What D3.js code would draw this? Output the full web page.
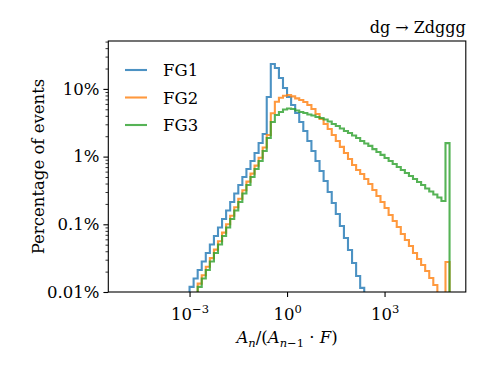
<!DOCTYPE html>
<html lang="en">
<head>
<meta charset="UTF-8">
<title>FG histograms</title>
<script src="https://d3js.org/d3.v7.min.js"></script>
<style>
  body { margin: 0; background: white; }
  svg { display: block; }
  text { font-family: "DejaVu Serif", serif; fill: black; }
  .axis path, .axis line { stroke: black; }
  .axis text { font-size: 16.5px; font-family: "DejaVu Serif", serif; }
</style>
</head>
<body>
<script>
// histogram bins: 80 log bins from 10^-5 to 10^5
const binLogStart = -5;
const binLogWidth = 0.125;

// percentage of events per bin
const fg1 = [
  0, 0, 0, 0, 0, 0, 0, 0, 0, 0, 0, 0, 0, 0, 0, 0,
  0.0119, 0.0158, 0.0211, 0.0282, 0.0377, 0.0503, 0.0672, 0.0897, 0.120, 0.160,
  0.213, 0.285, 0.381, 0.500, 0.656, 0.861, 1.13, 1.59, 2.16, 7.59,
  23.3, 20.4, 14.5, 10.3, 7.59, 5.78, 4.41, 3.24, 2.39, 1.70,
  1.21, 0.861, 0.613, 0.436, 0.300, 0.206, 0.142, 0.0944, 0.0628, 0.0417,
  0.0268, 0.0172, 0.0115, 0, 0, 0, 0, 0, 0, 0,
  0, 0, 0, 0, 0, 0, 0, 0, 0, 0, 0, 0, 0, 0
];
const fg2 = [
  0, 0, 0, 0, 0, 0, 0, 0, 0, 0, 0, 0, 0, 0, 0, 0, 0, 0,
  0.0133, 0.0177, 0.0236, 0.0316, 0.0422, 0.0563, 0.0753, 0.100, 0.134, 0.179,
  0.239, 0.319, 0.427, 0.560, 0.735, 0.964, 1.36, 2.08, 4.37, 6.46,
  7.41, 7.94, 8.13, 7.76, 7.24, 6.86, 6.40, 5.78, 5.05, 4.26,
  3.59, 3.03, 2.56, 2.08, 1.70, 1.39, 1.13, 0.922, 0.752, 0.634,
  0.553, 0.467, 0.394, 0.321, 0.262, 0.213, 0.174, 0.137, 0.112, 0.0912,
  0.0719, 0.0586, 0.0478, 0.0377, 0.0307, 0.0250, 0.0204, 0.0161, 0.0127, 0.008,
  0.008, 0.0277
];
const fg3 = [
  0, 0, 0, 0, 0, 0, 0, 0, 0, 0, 0, 0, 0, 0, 0, 0, 0, 0,
  0.0119, 0.0158, 0.0211, 0.0282, 0.0377, 0.0503, 0.0672, 0.0897, 0.120, 0.160,
  0.213, 0.285, 0.381, 0.500, 0.656, 0.861, 1.21, 1.88, 3.24, 4.11,
  4.56, 4.97, 5.13, 5.05, 4.80, 4.56, 4.41, 4.19, 4.05, 3.85,
  3.72, 3.53, 3.30, 3.03, 2.83, 2.60, 2.39, 2.23, 2.05, 1.88,
  1.70, 1.56, 1.44, 1.29, 1.17, 1.06, 0.953, 0.861, 0.778, 0.701,
  0.634, 0.573, 0.516, 0.467, 0.422, 0.380, 0.338, 0.305, 0.275, 0.249,
  0.221, 1.58
];

const seriesNames = ["FG1", "FG2", "FG3"];
const seriesColors = ["#1f77b4", "#ff7f0e", "#2ca02c"];
const seriesValues = [fg1, fg2, fg3];

const yMajorTicks = [0.01, 0.1, 1, 10];
const yMajorLabels = ["0.01%", "0.1%", "1%", "10%"];
const xMajorExponents = [-3, 0, 3];
const title = "dg \u2192 Zdggg";

const width = 488, height = 366;
const margin = {top: 41, right: 22.2, bottom: 74, left: 108.3};

const svg = d3.select("body").append("svg")
  .attr("width", width)
  .attr("height", height);

const x = d3.scaleLog()
  .domain([Math.pow(10, -5.5), Math.pow(10, 5.5)])
  .range([margin.left, width - margin.right]);

const y = d3.scaleLog()
  .domain([0.01, 51])
  .range([height - margin.bottom, margin.top]);

svg.append("defs").append("clipPath").attr("id", "plotclip")
  .append("rect")
  .attr("x", margin.left)
  .attr("y", margin.top)
  .attr("width", width - margin.left - margin.right)
  .attr("height", height - margin.top - margin.bottom);

//step lines
const tiny = 1e-6;
function stepPoints(vals) {
  const pts = [];
  const edge = k => Math.pow(10, binLogStart + k * binLogWidth);
  pts.push([edge(0), tiny]);
  vals.forEach((v, k) => {
    const vv = v > 0 ? v : tiny;
    pts.push([edge(k), vv]);
    pts.push([edge(k + 1), vv]);
  });
  pts.push([edge(vals.length), tiny]);
  return pts;
}

const line = d3.line()
  .x(d => x(d[0]))
  .y(d => Math.min(y(d[1]), height + 50));

const lines = svg.append("g").attr("clip-path", "url(#plotclip)");
seriesValues.forEach((vals, i) => {
  lines.append("path")
    .attr("d", line(stepPoints(vals)))
    .attr("fill", "none")
    .attr("stroke", seriesColors[i])
    .attr("stroke-opacity", 0.8)
    .attr("stroke-width", 2.1)
    .attr("stroke-linejoin", "miter");
});

//y axis minor ticks
const yMinor = [];
[0.01, 0.1, 1, 10].forEach(d => {
  for (let m = 2; m <= 9; m++) {
    if (d * m <= 51) yMinor.push(d * m);
  }
});
svg.append("g").attr("class", "axis")
  .attr("transform", `translate(${margin.left},0)`)
  .call(d3.axisLeft(y).tickValues(yMinor).tickSize(2.8).tickFormat(""))
  .call(g => g.select(".domain").remove())
  .selectAll("line").attr("stroke-width", 0.8);

//y axis major
svg.append("g").attr("class", "axis")
  .attr("transform", `translate(${margin.left},0)`)
  .call(d3.axisLeft(y).tickValues(yMajorTicks).tickSize(4.9).tickPadding(4)
    .tickFormat((d, i) => yMajorLabels[i]))
  .call(g => g.select(".domain").remove())
  .call(g => g.selectAll("line").attr("stroke-width", 1.1));

//x axis major
const xAxisG = svg.append("g").attr("class", "axis")
  .attr("transform", `translate(0,${height - margin.bottom})`)
  .call(d3.axisBottom(x).tickValues(xMajorExponents.map(e => Math.pow(10, e)))
    .tickSize(4.9).tickPadding(6).tickFormat(""))
  .call(g => g.select(".domain").remove())
  .call(g => g.selectAll("line").attr("stroke-width", 1.1));

xAxisG.selectAll(".tick text").each(function(d, i) {
  const t = d3.select(this).attr("dy", "1.05em");
  t.append("tspan").text("10");
  t.append("tspan").text(xMajorExponents[i] < 0 ? "\u2212" + (-xMajorExponents[i]) : String(xMajorExponents[i]))
    .attr("font-size", "11.5px").attr("dy", "-0.62em");
});

//frame
svg.append("rect")
  .attr("x", margin.left)
  .attr("y", margin.top)
  .attr("width", width - margin.left - margin.right)
  .attr("height", height - margin.top - margin.bottom)
  .attr("fill", "none")
  .attr("stroke", "black")
  .attr("stroke-width", 1.1);

//title
svg.append("text")
  .attr("x", width - margin.right)
  .attr("y", 33)
  .attr("text-anchor", "end")
  .attr("font-family", "DejaVu Serif")
  .attr("font-size", "16px")
  .text(title);

//y label
svg.append("text")
  .attr("transform", `translate(44,${(margin.top + height - margin.bottom) / 2}) rotate(-90)`)
  .attr("text-anchor", "middle")
  .attr("font-size", "16.5px")
  .text("Percentage of events");

//x label: A_n/(A_{n-1} . F)
const xl = svg.append("text")
  .attr("x", (margin.left + width - margin.right) / 2)
  .attr("y", 343)
  .attr("text-anchor", "middle")
  .attr("font-size", "16.5px");
xl.append("tspan").attr("font-style", "italic").text("A");
xl.append("tspan").attr("font-style", "italic").attr("font-size", "11.5px").attr("dy", "4").text("n");
xl.append("tspan").attr("dy", "-4").text("/(");
xl.append("tspan").attr("font-style", "italic").text("A");
xl.append("tspan").attr("font-size", "11.5px").attr("dy", "4")
  .html('<tspan font-style="italic">n</tspan>\u22121');
xl.append("tspan").attr("dy", "-4").text(" \u00b7 ");
xl.append("tspan").attr("font-style", "italic").text("F");
xl.append("tspan").text(")");

//legend
const legend = svg.append("g")
  .selectAll("g")
  .data(seriesNames)
  .enter()
  .append("g")
  .attr("transform", (d, i) => `translate(125,${70 + i * 27.5})`);

legend.append("line")
  .attr("x1", 0).attr("x2", 22)
  .attr("y1", 0).attr("y2", 0)
  .attr("stroke", (d, i) => seriesColors[i])
  .attr("stroke-opacity", 0.8)
  .attr("stroke-width", 2.1);

legend.append("text")
  .attr("x", 38)
  .attr("y", 6)
  .attr("font-family", "DejaVu Serif")
  .attr("font-size", "16.5px")
  .text(d => d);
</script>
</body>
</html>
